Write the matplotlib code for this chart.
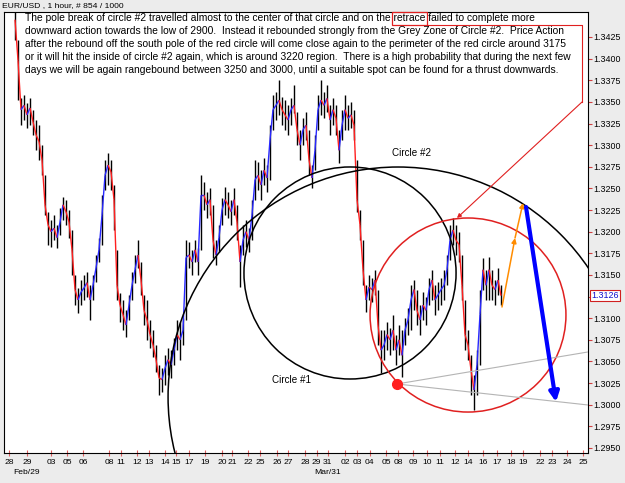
import numpy as np
import matplotlib
matplotlib.use('Agg')
import matplotlib.pyplot as plt
from matplotlib.patches import Ellipse, Rectangle
from matplotlib.collections import LineCollection
from matplotlib.lines import Line2D

plt.rcParams['font.family'] = ['Liberation Sans', 'DejaVu Sans']

W, H = 625, 483
BG = '#ececec'

# EUR/USD bars, prices in pips above 1.0000 (3126 -> 1.3126)
close_pips = [
    3445, 3398, 3341, 3346, 3335, 3343, 3327, 3312, 3304, 3283,
    3231, 3208, 3200, 3204, 3193, 3211, 3231, 3223, 3211, 3179,
    3133, 3121, 3130, 3135, 3141, 3121, 3138, 3158, 3179, 3219,
    3265, 3277, 3269, 3237, 3138, 3115, 3104, 3092, 3115, 3138,
    3156, 3173, 3144, 3109, 3098, 3081, 3069, 3052, 3031, 3029,
    3042, 3052, 3046, 3063, 3081, 3075, 3086, 3170, 3173, 3165,
    3179, 3165, 3242, 3242, 3231, 3237, 3190, 3173, 3193, 3225,
    3237, 3231, 3223, 3237, 3211, 3165, 3190, 3200, 3190, 3219,
    3260, 3265, 3254, 3271, 3262, 3306, 3341, 3346, 3352, 3341,
    3335, 3329, 3341, 3346, 3318, 3300, 3318, 3323, 3283, 3262,
    3294, 3341, 3352, 3346, 3354, 3329, 3341, 3331, 3294, 3323,
    3341, 3331, 3335, 3323, 3237, 3208, 3156, 3121, 3136, 3133,
    3144, 3092, 3063, 3069, 3081, 3075, 3086, 3063, 3075, 3057,
    3086, 3098, 3121, 3133, 3109, 3098, 3115, 3109, 3133, 3144,
    3121, 3127, 3133, 3138, 3156, 3190, 3202, 3190, 3185, 3138,
    3081, 3069, 3040, 3017, 3046, 3104, 3156, 3138, 3156, 3138,
    3133, 3144, 3126,
]
high_pips = [
    3454, 3422, 3354, 3358, 3349, 3354, 3341, 3329, 3323, 3300,
    3265, 3223, 3213, 3219, 3208, 3227, 3240, 3237, 3225, 3202,
    3150, 3135, 3144, 3150, 3153, 3138, 3150, 3173, 3193, 3242,
    3283, 3291, 3283, 3254, 3179, 3129, 3121, 3109, 3127, 3153,
    3173, 3190, 3165, 3127, 3121, 3098, 3086, 3069, 3046, 3042,
    3057, 3066, 3063, 3077, 3098, 3096, 3100, 3190, 3188, 3179,
    3190, 3181, 3265, 3257, 3246, 3250, 3231, 3190, 3208, 3239,
    3252, 3246, 3237, 3250, 3231, 3185, 3208, 3213, 3204, 3237,
    3283, 3280, 3271, 3285, 3277, 3323, 3358, 3361, 3375, 3356,
    3352, 3346, 3354, 3370, 3338, 3318, 3331, 3338, 3318, 3277,
    3312, 3358, 3375, 3361, 3370, 3346, 3354, 3346, 3318, 3341,
    3358, 3346, 3350, 3341, 3283, 3225, 3190, 3138, 3150, 3146,
    3156, 3133, 3086, 3086, 3096, 3089, 3104, 3081, 3092, 3086,
    3100, 3112, 3138, 3144, 3133, 3115, 3130, 3124, 3146, 3156,
    3138, 3142, 3146, 3156, 3173, 3208, 3216, 3208, 3200, 3173,
    3121, 3086, 3057, 3034, 3063, 3133, 3170, 3156, 3171, 3156,
    3144, 3158, 3138,
]
low_pips = [
    3422, 3352, 3323, 3329, 3320, 3323, 3312, 3294, 3283, 3265,
    3219, 3185, 3182, 3190, 3181, 3196, 3213, 3208, 3193, 3150,
    3115, 3106, 3115, 3121, 3124, 3098, 3121, 3142, 3165, 3185,
    3248, 3254, 3248, 3202, 3121, 3096, 3086, 3078, 3098, 3121,
    3141, 3158, 3127, 3092, 3075, 3066, 3055, 3038, 3011, 3015,
    3023, 3034, 3031, 3046, 3063, 3052, 3069, 3098, 3158, 3150,
    3165, 3150, 3179, 3225, 3216, 3219, 3170, 3161, 3176, 3208,
    3219, 3216, 3208, 3219, 3190, 3136, 3173, 3182, 3176, 3190,
    3237, 3248, 3237, 3254, 3246, 3260, 3318, 3329, 3335, 3323,
    3318, 3312, 3323, 3337, 3300, 3283, 3300, 3306, 3265, 3250,
    3271, 3318, 3335, 3331, 3338, 3312, 3323, 3312, 3279, 3306,
    3318, 3318, 3320, 3306, 3223, 3190, 3138, 3107, 3121, 3119,
    3127, 3069, 3037, 3052, 3063, 3057, 3063, 3046, 3057, 3032,
    3069, 3081, 3086, 3109, 3092, 3081, 3098, 3092, 3115, 3121,
    3104, 3109, 3115, 3121, 3138, 3167, 3185, 3173, 3165, 3121,
    3063, 3052, 3011, 2994, 3011, 3046, 3133, 3121, 3121, 3121,
    3115, 3127, 3115,
]

day_labels = ['28', '29', '03', '05', '06', '08', '11', '12', '13', '14', '15', '17',
              '19', '20', '21', '22', '25', '26', '27', '28', '29', '31', '02', '03',
              '04', '05', '08', '09', '10', '11', '12', '14', '16', '17', '18', '19',
              '22', '23', '24', '25']
day_pos = [-2, 4, 12, 17.3, 22.7, 31.3, 35.3, 40.7, 44.7, 50, 53.7, 58,
           63.3, 69, 72.3, 77.7, 81.7, 87.3, 91, 96.7, 100.5, 104.3, 110, 114,
           118.3, 123.7, 127.7, 132.7, 137.3, 141.7, 146.7, 151, 156, 160.7, 165.3, 169.3,
           175, 179, 184, 189.3]
month_labels = ['Feb/29', 'Mar/31']
month_pos = [4, 104.3]
last_price = 1.3126

note_lines = [
    "The pole break of circle #2 travelled almost to the center of that circle and on the retrace failed to complete more",
    "downward action towards the low of 2900.  Instead it rebounded strongly from the Grey Zone of Circle #2.  Price Action",
    "after the rebound off the south pole of the red circle will come close again to the perimeter of the red circle around 3175",
    "or it will hit the inside of circle #2 again, which is around 3220 region.  There is a high probability that during the next few",
    "days we will be again rangebound between 3250 and 3000, until a suitable spot can be found for a thrust downwards.",
]

close = 1 + np.array(close_pips) / 10000
high = 1 + np.array(high_pips) / 10000
low = 1 + np.array(low_pips) / 10000
x = np.arange(len(close))

fig = plt.figure(figsize=(W / 100, H / 100), dpi=100, facecolor=BG)
ax = fig.add_axes([4 / W, 30 / H, 584 / W, 441 / H])
ax.set_facecolor('white')
ax.set_xlim(-3.67, 191)
ax.set_ylim(1.29441, 1.34539)

# bars: black high-low, close-to-close coloured by direction
ax.vlines(x, low, high, color='black', lw=1.0, zorder=2)
segs = [[(x[i - 1], close[i - 1]), (x[i], close[i])] for i in range(1, len(x))]
cols = ['#2828ff' if close[i] >= close[i - 1] else '#ff2020' for i in range(1, len(x))]
ax.add_collection(LineCollection(segs, colors=cols, lw=1.0, zorder=3))

# circles
ax.add_patch(Ellipse((127.67, 1.30088), 153.3, 0.05318, fill=False, ec='black', lw=1.1, zorder=4))
ax.add_patch(Ellipse((111.67, 1.31522), 70.7, 0.02451, fill=False, ec='black', lw=1.1, zorder=4))
ax.add_patch(Ellipse((151, 1.31036), 65.3, 0.02243, fill=False, ec='#e02020', lw=1.1, zorder=4))

# grey lines from the red dot
ax.plot([127.33, 191], [1.30239, 1.30609], color='#b4b4b4', lw=0.8, zorder=4)
ax.plot([127.33, 191], [1.30239, 1.29996], color='#b4b4b4', lw=0.8, zorder=4)
ax.plot(127.33, 1.30239, 'o', color='#ff2020', ms=7, zorder=5)

# projected path arrows
ax.annotate('', xy=(166.67, 1.31926), xytext=(162.33, 1.31129),
            arrowprops=dict(arrowstyle='-|>', color='#ff8c00', lw=1.1, mutation_scale=7,
                            shrinkA=0, shrinkB=0), zorder=5)
ax.annotate('', xy=(169.33, 1.32331), xytext=(166.67, 1.31926),
            arrowprops=dict(arrowstyle='-|>', color='#ff8c00', lw=1.1, mutation_scale=7,
                            shrinkA=0, shrinkB=0), zorder=5)
ax.annotate('', xy=(180.33, 1.30031), xytext=(170.33, 1.32285),
            arrowprops=dict(arrowstyle='-|>', color='#0000ff', lw=3, mutation_scale=14,
                            shrinkA=0, shrinkB=0), zorder=5)

ax.text(132.3, 1.32909, 'Circle #2', fontsize=7.1, ha='center', va='center', zorder=6)
ax.text(92, 1.30285, 'Circle #1', fontsize=7.1, ha='center', va='center', zorder=6)

# axes styling
for s in ax.spines.values():
    s.set_color('black')
    s.set_linewidth(0.8)
ax.yaxis.tick_right()
yt = np.arange(1.2950, 1.34251, 0.0025)
ax.set_yticks(yt)
# the 1.3125 label sits under the last-price box
ax.set_yticklabels(['' if abs(v - last_price) < 0.001 else f'{v:.4f}' for v in yt])
ax.tick_params(axis='y', color='#d04040', labelcolor='black', length=3, width=0.8,
               labelsize=6.4, pad=1)
ax.set_xticks(day_pos)
ax.set_xticklabels(day_labels)
ax.tick_params(axis='x', color='#e06060', labelcolor='black', length=4, width=0.8,
               direction='inout', labelsize=6.1, pad=2)
for lab, pos in zip(month_labels, month_pos):
    ax.text(pos, -0.045, lab, transform=ax.get_xaxis_transform(), fontsize=6.1,
            ha='center', va='center')
ax.text(1.005, last_price, f'{last_price:.4f}', transform=ax.get_yaxis_transform(),
        fontsize=6.4, color='#1010d0', ha='left', va='center',
        bbox=dict(boxstyle='square,pad=0.15', fc='white', ec='#d02020', lw=0.8))

fig.text(2 / W, 1 - 6 / H, 'EUR/USD , 1 hour, # 854 / 1000', fontsize=6.1, ha='left', va='center')

# commentary text
fs = 7.35
line_y = [18, 31, 44, 57, 70]
for txt, yy in zip(note_lines, line_y):
    fig.text(25 / W, 1 - yy / H, txt, fontsize=fs, ha='left', va='center', zorder=7)

fig.canvas.draw()
r = fig.canvas.get_renderer()
pre = note_lines[0].split('retrace')[0] + 'retrace'
p1 = fig.text(25 / W, 1 - line_y[0] / H, pre, fontsize=fs, ha='left', va='center')
p2 = fig.text(25 / W, 1 - line_y[0] / H, 'retrace', fontsize=fs, ha='left', va='center')
e1 = p1.get_window_extent(r)
wr = p2.get_window_extent(r).width
p1.remove()
p2.remove()
bx0 = e1.x1 - wr - 1.5
bx1 = e1.x1 + 1.5
by0 = H - (line_y[0] + 6.5)
by1 = H - (line_y[0] - 6)
fig.patches.append(Rectangle((bx0 / W, by0 / H), (bx1 - bx0) / W, (by1 - by0) / H,
                             transform=fig.transFigure, fill=False, ec='#e02020', lw=0.9))
fig.lines.append(Line2D([bx1 / W, 582 / W, 582 / W], [by0 / H, by0 / H, 1 - 102 / H],
                        transform=fig.transFigure, color='#e02020', lw=0.8))
ax.annotate('', xy=(147.33, 1.32158), xycoords='data',
            xytext=(582 / W, 1 - 102 / H), textcoords='figure fraction',
            arrowprops=dict(arrowstyle='-|>', color='#e02020', lw=0.8, mutation_scale=6,
                            shrinkA=0, shrinkB=0), annotation_clip=False, zorder=6)

fig.savefig('out.png', dpi=100, facecolor=BG)
